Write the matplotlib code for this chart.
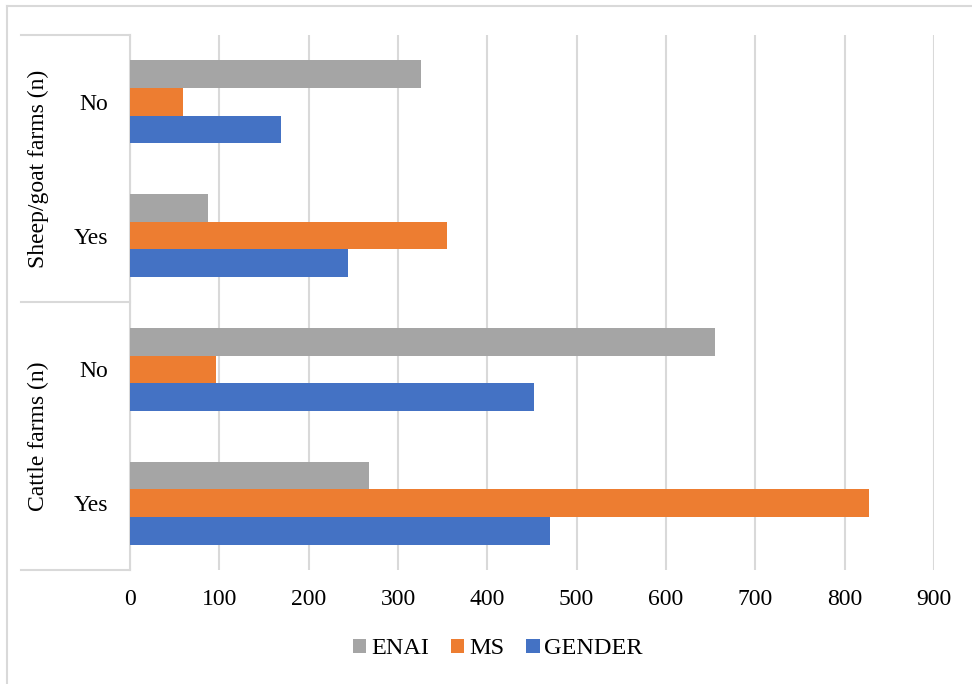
import matplotlib.pyplot as plt
import numpy as np
from matplotlib.lines import Line2D

# categories listed bottom to top
groups = ["Cattle farms (n)", "Sheep/goat farms (n)"]
answers = ["Yes", "No", "Yes", "No"]
enai = [267, 655, 87, 326]
ms = [827, 96, 355, 59]
gender = [470, 452, 244, 169]

COLORS = {"ENAI": "#a5a5a5", "MS": "#ed7d31", "GENDER": "#4472c4"}
GRID = "#d9d9d9"
FS = 17

plt.rcParams["font.family"] = ["Liberation Serif", "DejaVu Serif"]

fig = plt.figure(figsize=(9.72, 6.84), dpi=100)
ax = fig.add_axes([130 / 972, 1 - 570 / 684, (934 - 130) / 972, (570 - 35) / 684])

y = np.arange(len(answers))
h = 0.207
ax.barh(y + h, enai, height=h, color=COLORS["ENAI"], label="ENAI", zorder=3)
ax.barh(y, ms, height=h, color=COLORS["MS"], label="MS", zorder=3)
ax.barh(y - h, gender, height=h, color=COLORS["GENDER"], label="GENDER", zorder=3)

ax.set_xlim(0, 900)
ax.set_ylim(-0.5, len(answers) - 0.5)
ax.set_xticks(range(0, 1000, 100))
ax.set_yticks(y)
ax.set_yticklabels(answers)
ax.tick_params(axis="both", length=0, labelsize=FS)
ax.tick_params(axis="x", pad=14)
ax.tick_params(axis="y", pad=15.5)
ax.grid(axis="x", color=GRID, linewidth=1.5, zorder=0)
for side in ["top", "right", "bottom"]:
    ax.spines[side].set_visible(False)
ax.spines["left"].set_color(GRID)
ax.spines["left"].set_linewidth(1.5)

# group brackets to the left of the category labels
x0 = 21 / 972
x1 = 130 / 972
for yy in [35, 302, 570]:
    yf = 1 - yy / 684
    fig.add_artist(Line2D([x0, x1], [yf, yf], transform=fig.transFigure,
                          color=GRID, linewidth=1.5))
fig.text(38 / 972, 1 - 436 / 684, groups[0], rotation=90, ha="center",
         va="center", fontsize=FS)
fig.text(38 / 972, 1 - 169 / 684, groups[1], rotation=90, ha="center",
         va="center", fontsize=FS)

# outer chart border
fig.add_artist(Line2D([7 / 972, 1], [1 - 6 / 684, 1 - 6 / 684],
                      transform=fig.transFigure, color=GRID, linewidth=1.5))
fig.add_artist(Line2D([7 / 972, 7 / 972], [0, 1 - 6 / 684],
                      transform=fig.transFigure, color=GRID, linewidth=1.5))

fig.legend(loc="center", bbox_to_anchor=(498 / 972, 1 - 649 / 684), ncol=3,
           frameon=False, fontsize=FS + 0.5, handlelength=0.55, handleheight=0.55,
           handletextpad=0.2, columnspacing=0.9)

fig.savefig("out.png", dpi=100)
